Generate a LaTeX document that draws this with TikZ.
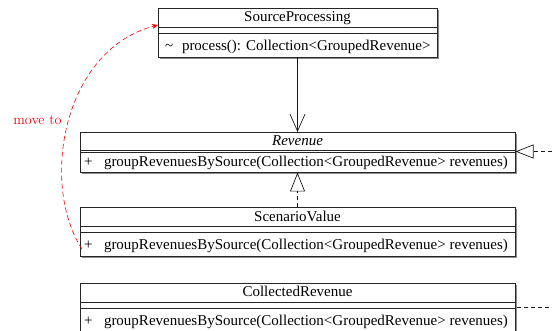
\documentclass[tikz,border=0pt]{standalone}
\usepackage{fontspec}
\newfontfamily\umlfont{Liberation Serif}
\usetikzlibrary{arrows.meta,shadows}
\begin{document}
\begin{tikzpicture}[x=1pt,y=-1pt,
  umlbox/.style={draw=black!85, fill=white, line width=0.7pt, inner sep=0pt, outer sep=0pt,
    anchor=north west, drop shadow={shadow xshift=1.6pt, shadow yshift=-1.6pt, fill=black!45, opacity=1}},
  umltext/.style={inner sep=0pt, outer sep=0pt, font=\umlfont\fontsize{15}{18}\selectfont, text=black},
  sepline/.style={draw=black!85, line width=0.7pt},
  conn/.style={draw=black!90, line width=0.7pt},
  realize/.style={conn, dash pattern=on 4pt off 3pt},
  moveline/.style={draw=red, line width=0.6pt, dash pattern=on 5pt off 3pt},
]
\useasboundingbox (0,0) rectangle (552,331);

% boxes
\node[umlbox, minimum width=279pt, minimum height=49pt] (sp) at (158,8) {};
\node[umlbox, minimum width=435pt, minimum height=40.5pt] (rev) at (80,132) {};
\node[umlbox, minimum width=435pt, minimum height=49pt] (sv) at (80,207.5) {};
\node[umlbox, minimum width=435pt, minimum height=52pt] (cr) at (80,283) {};

% separators
\draw[sepline] ([yshift=-19pt]sp.north west) -- ([yshift=-19pt]sp.north east);
\draw[sepline] ([yshift=-25pt]sp.north west) -- ([yshift=-25pt]sp.north east);
\draw[sepline] ([yshift=-18.7pt]rev.north west) -- ([yshift=-18.7pt]rev.north east);
\draw[sepline] ([yshift=-20.5pt]rev.north west) -- ([yshift=-20.5pt]rev.north east);
\draw[sepline] ([yshift=-19pt]sv.north west) -- ([yshift=-19pt]sv.north east);
\draw[sepline] ([yshift=-25pt]sv.north west) -- ([yshift=-25pt]sv.north east);
\draw[sepline] ([yshift=-19pt]cr.north west) -- ([yshift=-19pt]cr.north east);
\draw[sepline] ([yshift=-25pt]cr.north west) -- ([yshift=-25pt]cr.north east);

% texts
\node[umltext, anchor=base] (spt) at (297.5,22) {SourceProcessing};
\node[umltext, anchor=base west] (spv) at (165,51) {\textasciitilde};
\node[umltext, anchor=base west] (spm) at (182,51) {process(): Collection<GroupedRevenue>};

\node[umltext, anchor=base] (revt) at (297.5,146) {\itshape Revenue};
\node[umltext, anchor=base west] (revv) at (84,167) {+};
\node[umltext, anchor=base west] (revm) at (104,167) {groupRevenuesBySource(Collection<GroupedRevenue> revenues)};

\node[umltext, anchor=base] (svt) at (297.5,221.5) {ScenarioValue};
\node[umltext, anchor=base west] (svv) at (84,250) {+};
\node[umltext, anchor=base west] (svm) at (104,250) {groupRevenuesBySource(Collection<GroupedRevenue> revenues)};

\node[umltext, anchor=base] (crt) at (297.5,297) {CollectedRevenue};
\node[umltext, anchor=base west] (crv) at (84,326) {+};
\node[umltext, anchor=base west] (crm) at (104,326) {groupRevenuesBySource(Collection<GroupedRevenue> revenues)};

% connectors
\draw[conn, -{Straight Barb[length=17pt,width=15pt,line width=0.7pt]}] (sp.south) -- (rev.north);
\draw[realize, -{Triangle[open,length=19pt,width=15pt,line width=0.7pt]}] (sv.north) -- (rev.south);

\coordinate (rin) at (552,151.5);
\draw[realize, -{Triangle[open,length=18pt,width=14pt,line width=0.7pt]}] (rin) -- ([xshift=0.5pt]rev.east |- rin);

\coordinate (cout) at (552,307.5);
\draw[realize] ([xshift=2pt]cr.east |- cout) -- (cout);

% move to
\draw[moveline, -{Stealth[length=6pt,width=5pt]}] ([xshift=2pt,yshift=-17pt]sv.west)
  .. controls (40,185) and (62,50) .. ([yshift=7.5pt]sp.west);
\node[inner sep=0pt, text=red, font=\fontsize{14.2}{17}\selectfont, anchor=base] (mv) at (37.5,125) {move to};
\end{tikzpicture}
\end{document}
